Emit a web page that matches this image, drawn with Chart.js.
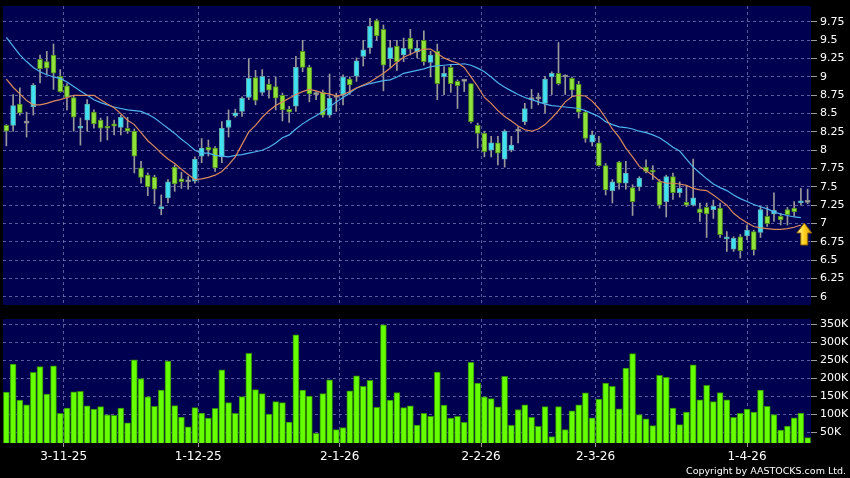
<!DOCTYPE html>
<html>
<head>
<meta charset="utf-8">
<title>Price and volume chart</title>
<script src="https://cdn.jsdelivr.net/npm/chart.js@4.4.1/dist/chart.umd.min.js"></script>
<style>
  body { margin: 0; background: #000; width: 850px; height: 478px; overflow: hidden; position: relative; font-family: "DejaVu Sans", sans-serif; }
  #priceChart { position: absolute; left: 0; top: 0; }
  #volChart { position: absolute; left: 0; top: 310px; }
  .copyright { position: absolute; right: 4px; top: 465px; color: #fff; font-size: 9.5px; line-height: 12px; }
</style>
</head>
<body>
<canvas id="priceChart" width="850" height="310"></canvas>
<canvas id="volChart" width="850" height="168"></canvas>
<div class="copyright">Copyright by AASTOCKS.com Ltd.</div>
<script>
// x tick positions (candle index) and their date labels
const tickPos = [8.5, 28.5, 49.5, 70.5, 87.5, 110];
const tickText = ['3-11-25', '1-12-25', '2-1-26', '2-2-26', '2-3-26', '1-4-26'];
const priceTicks = [6, 6.25, 6.5, 6.75, 7, 7.25, 7.5, 7.75, 8, 8.25, 8.5, 8.75, 9, 9.25, 9.5, 9.75];
const volTicks = [50000, 100000, 150000, 200000, 250000, 300000, 350000];

const openP = [
  8.34, 8.34, 8.63, 8.37, 8.59, 9.24, 9.21, 9.30, 9.01, 8.88,
  8.72, 8.30, 8.41, 8.52, 8.41, 8.33, 8.36, 8.31, 8.30, 8.26,
  7.76, 7.66, 7.63, 7.20, 7.35, 7.77, 7.61, 7.57, 7.58, 7.92,
  8.04, 8.03, 7.91, 8.31, 8.47, 8.53, 8.72, 8.99, 8.79, 8.90,
  8.87, 8.75, 8.56, 8.60, 9.35, 9.13, 8.76, 8.79, 8.48, 8.72,
  8.75, 8.97, 9.01, 9.28, 9.40, 9.77, 9.65, 9.25, 9.42, 9.30,
  9.53, 9.34, 9.50, 9.20, 9.35, 9.00, 9.13, 8.94, 8.94, 8.91,
  8.34, 8.23, 8.00, 8.10, 7.88, 8.00, 8.26, 8.39, 8.69, 8.70,
  8.64, 9.00, 9.05, 9.00, 8.98, 8.90, 8.52, 8.11, 8.10, 7.79,
  7.45, 7.84, 7.55, 7.49, 7.50, 7.77, 7.73, 7.57, 7.30, 7.64,
  7.42, 7.29, 7.25, 7.20, 7.22, 7.19, 7.21, 6.79, 6.65, 6.82,
  6.83, 6.89, 6.88, 7.10, 7.13, 7.10, 7.19, 7.21, 7.28, 7.29
];
const highP = [
  8.35, 8.76, 8.85, 8.52, 8.91, 9.30, 9.35, 9.45, 9.10, 8.91,
  8.75, 8.44, 8.69, 8.55, 8.44, 8.46, 8.41, 8.48, 8.45, 8.29,
  7.85, 7.69, 7.66, 7.39, 7.60, 7.80, 7.70, 7.64, 7.91, 8.16,
  8.14, 8.05, 8.39, 8.55, 8.56, 8.73, 9.25, 9.09, 9.10, 8.97,
  9.00, 8.78, 8.60, 9.28, 9.50, 9.16, 8.80, 8.82, 9.04, 8.78,
  9.03, 9.00, 9.26, 9.50, 9.80, 9.79, 9.71, 9.50, 9.50, 9.53,
  9.65, 9.50, 9.63, 9.35, 9.45, 9.14, 9.16, 8.96, 8.97, 8.91,
  8.37, 8.26, 8.19, 8.19, 8.28, 8.19, 8.32, 8.64, 8.83, 8.78,
  9.01, 9.07, 9.47, 9.03, 9.00, 8.94, 8.53, 8.26, 8.19, 7.82,
  7.60, 7.85, 7.85, 7.53, 7.64, 7.87, 7.79, 7.60, 7.66, 7.69,
  7.57, 7.52, 7.88, 7.28, 7.28, 7.32, 7.28, 6.89, 6.82, 6.85,
  6.98, 6.91, 7.23, 7.23, 7.42, 7.14, 7.22, 7.30, 7.48, 7.47
];
const lowP = [
  8.06, 8.26, 8.48, 8.18, 8.48, 8.92, 9.03, 8.83, 8.79, 8.55,
  8.26, 8.07, 8.26, 8.30, 8.12, 8.14, 8.21, 8.21, 8.23, 7.69,
  7.55, 7.38, 7.27, 7.12, 7.28, 7.44, 7.48, 7.47, 7.55, 7.83,
  7.92, 7.71, 7.83, 8.18, 8.45, 8.46, 8.69, 8.62, 8.76, 8.71,
  8.55, 8.40, 8.38, 8.53, 9.07, 8.66, 8.69, 8.45, 8.45, 8.53,
  8.62, 8.76, 8.94, 9.15, 9.32, 9.50, 8.81, 9.13, 9.09, 9.21,
  9.30, 9.26, 9.16, 9.00, 8.69, 8.76, 8.79, 8.57, 8.80, 8.37,
  8.03, 7.91, 7.91, 7.80, 7.77, 7.98, 8.10, 8.35, 8.57, 8.62,
  8.51, 8.76, 8.89, 8.76, 8.73, 8.44, 8.11, 8.06, 7.78, 7.39,
  7.28, 7.47, 7.47, 7.11, 7.45, 7.69, 7.60, 7.21, 7.09, 7.33,
  7.36, 7.23, 7.24, 7.03, 6.81, 7.07, 6.81, 6.62, 6.62, 6.53,
  6.78, 6.57, 6.81, 6.96, 7.03, 6.98, 6.98, 7.10, 7.25, 7.27
];
const closeP = [
  8.26, 8.61, 8.51, 8.37, 8.89, 9.11, 9.12, 9.05, 8.80, 8.72,
  8.45, 8.33, 8.63, 8.36, 8.30, 8.30, 8.33, 8.45, 8.26, 7.92,
  7.63, 7.50, 7.47, 7.23, 7.57, 7.54, 7.57, 7.57, 7.88, 8.03,
  8.00, 7.76, 8.30, 8.41, 8.51, 8.71, 8.98, 8.68, 9.01, 8.82,
  8.71, 8.55, 8.52, 9.13, 9.13, 8.77, 8.76, 8.48, 8.71, 8.72,
  9.00, 8.89, 9.22, 9.37, 9.69, 9.56, 9.16, 9.40, 9.21, 9.39,
  9.38, 9.39, 9.21, 9.30, 8.91, 9.05, 8.91, 8.88, 8.94, 8.39,
  8.23, 7.98, 8.10, 7.96, 8.26, 8.07, 8.26, 8.57, 8.69, 8.70,
  8.97, 9.05, 8.91, 9.00, 8.82, 8.52, 8.16, 8.21, 7.79, 7.46,
  7.57, 7.55, 7.69, 7.30, 7.62, 7.71, 7.70, 7.25, 7.64, 7.42,
  7.48, 7.25, 7.35, 7.15, 7.13, 7.24, 6.85, 6.82, 6.80, 6.63,
  6.91, 6.64, 7.19, 7.00, 7.18, 7.05, 7.12, 7.16, 7.31, 7.29
];
// short (orange) and long (blue) moving averages as drawn
const ma10 = [
  8.97, 8.86, 8.77, 8.68, 8.62, 8.62, 8.64, 8.67, 8.69, 8.72,
  8.75, 8.75, 8.75, 8.75, 8.69, 8.63, 8.58, 8.50, 8.41, 8.35,
  8.24, 8.13, 8.05, 7.96, 7.88, 7.82, 7.74, 7.67, 7.60, 7.61,
  7.63, 7.66, 7.71, 7.80, 7.91, 8.08, 8.25, 8.34, 8.45, 8.54,
  8.61, 8.66, 8.71, 8.76, 8.80, 8.83, 8.81, 8.78, 8.77, 8.74,
  8.76, 8.80, 8.85, 8.89, 8.93, 8.99, 9.05, 9.12, 9.20, 9.27,
  9.31, 9.35, 9.38, 9.38, 9.32, 9.26, 9.22, 9.19, 9.13, 9.00,
  8.87, 8.72, 8.64, 8.54, 8.46, 8.40, 8.33, 8.28, 8.26, 8.29,
  8.35, 8.44, 8.54, 8.66, 8.73, 8.75, 8.74, 8.67, 8.57, 8.44,
  8.29, 8.18, 8.03, 7.91, 7.78, 7.72, 7.66, 7.58, 7.55, 7.55,
  7.54, 7.52, 7.48, 7.46, 7.45, 7.39, 7.32, 7.25, 7.14, 7.07,
  7.01, 6.96, 6.94, 6.93, 6.92, 6.92, 6.93, 6.95, 6.98, null
];
const ma20 = [
  9.54, 9.42, 9.30, 9.21, 9.13, 9.07, 9.03, 9.00, 8.98, 8.93,
  8.87, 8.81, 8.75, 8.69, 8.65, 8.62, 8.59, 8.57, 8.55, 8.54,
  8.53, 8.49, 8.44, 8.37, 8.30, 8.23, 8.15, 8.08, 8.00, 7.96,
  7.96, 7.93, 7.92, 7.91, 7.93, 7.94, 7.96, 7.98, 8.00, 8.04,
  8.10, 8.17, 8.21, 8.29, 8.36, 8.42, 8.47, 8.53, 8.59, 8.66,
  8.72, 8.78, 8.85, 8.88, 8.91, 8.93, 8.95, 8.96, 9.00, 9.05,
  9.07, 9.09, 9.11, 9.14, 9.15, 9.16, 9.17, 9.17, 9.18, 9.16,
  9.12, 9.07, 9.00, 8.92, 8.86, 8.81, 8.76, 8.72, 8.69, 8.66,
  8.63, 8.61, 8.60, 8.59, 8.58, 8.57, 8.54, 8.50, 8.46, 8.39,
  8.35, 8.32, 8.31, 8.29, 8.26, 8.24, 8.21, 8.17, 8.11, 8.04,
  7.99, 7.88, 7.77, 7.69, 7.61, 7.54, 7.49, 7.45, 7.39, 7.34,
  7.30, 7.26, 7.23, 7.20, 7.16, 7.13, 7.11, 7.09, 7.08, null
];
// volume in thousands of shares
const volumeK = [
  161, 239, 139, 126, 216, 232, 156, 234, 102, 117,
  162, 163, 123, 114, 121, 98, 97, 117, 76, 251,
  199, 148, 122, 167, 247, 124, 92, 65, 118, 103,
  89, 116, 223, 132, 102, 149, 269, 168, 157, 100,
  135, 132, 78, 320, 167, 150, 47, 157, 195, 57,
  63, 165, 206, 177, 194, 119, 348, 139, 160, 118,
  123, 70, 102, 94, 217, 125, 89, 94, 77, 244,
  186, 148, 143, 120, 205, 69, 113, 126, 91, 66,
  121, 38, 121, 57, 109, 126, 159, 90, 142, 186,
  177, 115, 228, 268, 99, 87, 68, 208, 202, 117,
  71, 106, 237, 140, 180, 135, 160, 140, 91, 102,
  114, 106, 167, 122, 99, 56, 67, 90, 103, 35
];

const gridColor = 'rgba(150,150,210,0.6)';
const upColor = '#3ee2f0';
const downColor = '#8ee23a';
const flatColor = '#aaaaaa';

function candleColor(i) {
    if (closeP[i] > openP[i]) return upColor;
    if (closeP[i] < openP[i]) return downColor;
    return flatColor;
}

function candleBorder(i) {
    if (closeP[i] > openP[i]) return '#5fa8b0';
    if (closeP[i] < openP[i]) return '#4f8a1e';
    return '#888888';
}

function points(arr) {
    return arr.map((v, i) => ({ x: i, y: v }));
}

// fill the plot area navy
const plotBg = {
    id: 'plotBg',
    beforeDraw(chart) {
        const a = chart.chartArea;
        const ctx = chart.ctx;
        ctx.save();
        ctx.fillStyle = '#000050';
        ctx.fillRect(a.left, a.top, a.right - a.left, a.bottom - a.top);
        ctx.restore();
    }
};

// yellow marker arrow at the end of the moving averages
const lastArrow = {
    id: 'lastArrow',
    afterDatasetsDraw(chart) {
        const xs = chart.scales.x;
        const ys = chart.scales.y;
        const last = ma10.length - 2;
        const x = (xs.getPixelForValue(last) + xs.getPixelForValue(last + 1)) / 2;
        const y = ys.getPixelForValue(ma10[last]) - 2;
        const ctx = chart.ctx;
        ctx.save();
        const g = ctx.createLinearGradient(x - 7, 0, x + 7, 0);
        g.addColorStop(0, '#fff6a0');
        g.addColorStop(0.5, '#ffd21e');
        g.addColorStop(1, '#d89a00');
        ctx.beginPath();
        ctx.moveTo(x, y);
        ctx.lineTo(x + 7.5, y + 10);
        ctx.lineTo(x + 3.5, y + 10);
        ctx.lineTo(x + 3.5, y + 22);
        ctx.lineTo(x - 3.5, y + 22);
        ctx.lineTo(x - 3.5, y + 10);
        ctx.lineTo(x - 7.5, y + 10);
        ctx.closePath();
        ctx.fillStyle = g;
        ctx.fill();
        ctx.strokeStyle = '#8a6000';
        ctx.lineWidth = 1;
        ctx.stroke();
        ctx.restore();
    }
};

// no extra room for the top/bottom tick labels
function noLabelPadding(s) {
    s.paddingTop = 0;
    s.paddingBottom = 0;
}

const xScaleBase = {
    type: 'linear',
    min: -0.5,
    max: openP.length - 0.5,
    offset: false,
    afterBuildTicks: s => { s.ticks = tickPos.map(v => ({ value: v })); },
    border: { display: false, dash: [3, 3] }
};

new Chart(document.getElementById('priceChart'), {
    type: 'bar',
    data: {
        datasets: [{
            type: 'line',
            data: points(ma10),
            borderColor: '#d98a5c',
            borderWidth: 1.2,
            pointRadius: 0,
            order: 0
        }, {
            type: 'line',
            data: points(ma20),
            borderColor: '#4fb2ee',
            borderWidth: 1.2,
            pointRadius: 0,
            order: 0
        }, {
            data: lowP.map((v, i) => ({ x: i, y: [v, highP[i]] })),
            backgroundColor: '#9a9a9a',
            barThickness: 1,
            grouped: false,
            order: 2
        }, {
            data: openP.map((v, i) => ({ x: i, y: [v, closeP[i]] })),
            backgroundColor: openP.map((_, i) => candleColor(i)),
            borderColor: openP.map((_, i) => candleBorder(i)),
            borderWidth: 1,
            borderSkipped: false,
            barThickness: 5,
            minBarLength: 2,
            grouped: false,
            order: 1
        }]
    },
    options: {
        responsive: false,
        animation: false,
        devicePixelRatio: 1,
        layout: { padding: { left: 3, top: 6, bottom: 5, right: 0 } },
        plugins: { legend: { display: false }, tooltip: { enabled: false } },
        scales: {
            x: Object.assign({}, xScaleBase, {
                ticks: { display: false },
                grid: { color: gridColor, drawTicks: false, offset: false },
                afterFit: s => { s.height = 0; }
            }),
            y: {
                position: 'right',
                min: 5.889,
                max: 9.968,
                afterBuildTicks: s => { s.ticks = priceTicks.map(v => ({ value: v })); },
                ticks: {
                    color: '#ffffff',
                    font: { family: 'DejaVu Sans', size: 11 },
                    padding: 3,
                    autoSkip: false,
                    callback: v => String(v)
                },
                grid: { color: gridColor, tickColor: '#9a9a9a', tickLength: 6 },
                border: { display: false, dash: [3, 3] },
                afterFit: s => { s.width = 39; noLabelPadding(s); }
            }
        }
    },
    plugins: [plotBg, lastArrow]
});

new Chart(document.getElementById('volChart'), {
    type: 'bar',
    data: {
        datasets: [{
            data: volumeK.map((v, i) => ({ x: i, y: v * 1000 })),
            backgroundColor: '#66ff00',
            borderColor: '#2f8a00',
            borderWidth: 1,
            barThickness: 6
        }]
    },
    options: {
        responsive: false,
        animation: false,
        devicePixelRatio: 1,
        layout: { padding: { left: 3, top: 9, bottom: 0, right: 0 } },
        plugins: { legend: { display: false }, tooltip: { enabled: false } },
        scales: {
            x: Object.assign({}, xScaleBase, {
                ticks: {
                    color: '#ffffff',
                    font: { family: 'DejaVu Sans', size: 12 },
                    padding: 3,
                    maxRotation: 0,
                    autoSkip: false,
                    callback: (v, i) => tickText[i]
                },
                grid: { color: gridColor, tickColor: '#9a9a9a', tickLength: 4, offset: false },
                afterFit: s => { s.height = 35; }
            }),
            y: {
                position: 'right',
                min: 20000,
                max: 364000,
                afterBuildTicks: s => { s.ticks = volTicks.map(v => ({ value: v })); },
                ticks: {
                    color: '#ffffff',
                    font: { family: 'DejaVu Sans', size: 11 },
                    padding: 3,
                    autoSkip: false,
                    callback: v => (v / 1000) + 'K'
                },
                grid: { color: gridColor, tickColor: '#9a9a9a', tickLength: 6 },
                border: { display: false, dash: [3, 3] },
                afterFit: s => { s.width = 39; noLabelPadding(s); }
            }
        }
    },
    plugins: [plotBg]
});
</script>
</body>
</html>
